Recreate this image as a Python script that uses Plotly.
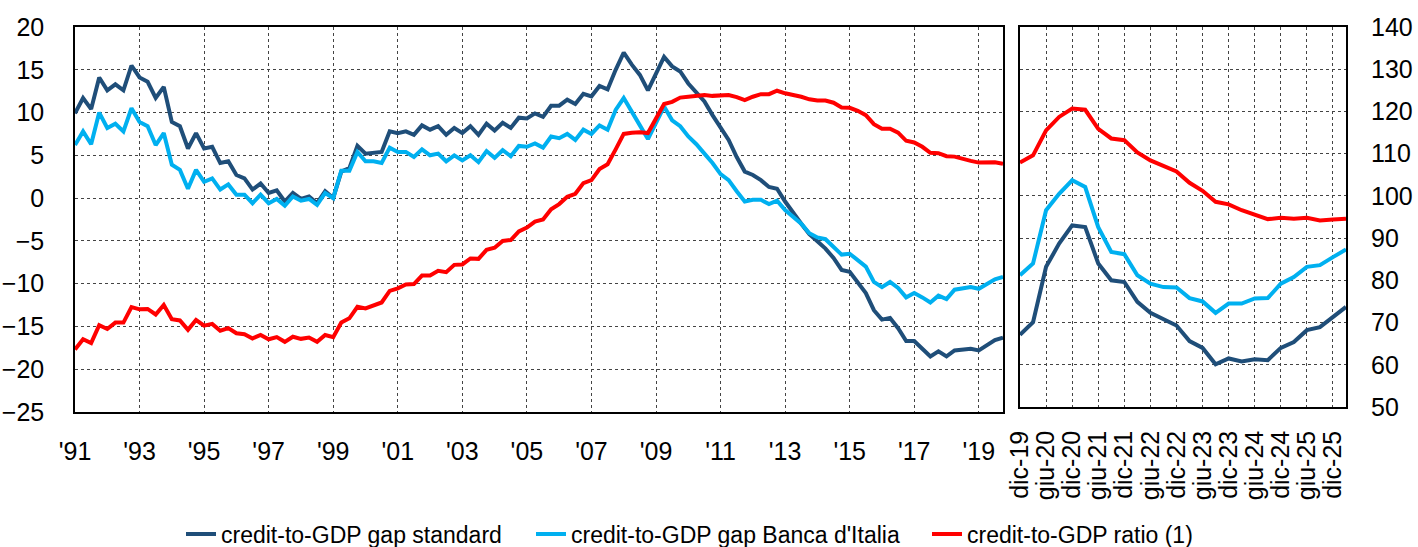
import plotly.graph_objects as go

# quarterly history 1991Q1 - 2019Q4
gap_standard = [
    9.9, 11.7, 10.4, 14.1, 12.6, 13.3, 12.6, 15.5, 14.1, 13.6, 11.7, 13.0,
    8.9, 8.4, 5.8, 7.6, 5.8, 6.0, 4.1, 4.3, 2.7, 2.3, 1.0, 1.7,
    0.6, 0.9, -0.4, 0.6, -0.1, 0.2, -0.6, 0.8, 0.0, 3.1, 3.5, 6.1,
    5.2, 5.3, 5.4, 7.8, 7.6, 7.8, 7.4, 8.5, 8.0, 8.4, 7.4, 8.2,
    7.6, 8.4, 7.4, 8.7, 7.9, 8.8, 8.2, 9.4, 9.3, 9.9, 9.5, 10.8,
    10.8, 11.5, 11.0, 12.2, 11.9, 13.1, 12.7, 15.0, 17.0, 15.6, 14.4, 12.6,
    14.6, 16.5, 15.4, 14.8, 13.4, 12.4, 11.3, 9.7, 8.2, 6.8, 4.8, 3.1,
    2.7, 2.1, 1.3, 1.1, -0.4, -1.8, -3.0, -4.2, -5.1, -5.9, -7.0, -8.4,
    -8.6, -9.8, -11.1, -13.1, -14.2, -14.0, -15.2, -16.7, -16.7, -17.6, -18.5, -17.9,
    -18.5, -17.8, -17.7, -17.6, -17.8, -17.2, -16.6, -16.3,
]
gap_bdi = [
    6.2, 7.8, 6.3, 10.0, 8.2, 8.7, 7.8, 10.5, 8.9, 8.4, 6.2, 7.6,
    3.9, 3.3, 1.1, 3.3, 1.9, 2.3, 1.0, 1.6, 0.4, 0.4, -0.6, 0.4,
    -0.6, -0.1, -0.9, 0.2, -0.3, -0.1, -0.8, 0.6, 0.0, 3.2, 3.2, 5.4,
    4.3, 4.3, 4.1, 5.9, 5.4, 5.4, 4.8, 5.7, 5.0, 5.2, 4.3, 5.0,
    4.4, 5.0, 4.2, 5.5, 4.7, 5.6, 4.9, 6.1, 6.0, 6.4, 5.9, 7.2,
    7.0, 7.5, 6.8, 8.0, 7.5, 8.5, 8.0, 10.3, 11.7, 10.0, 8.5, 6.9,
    8.9, 10.7, 9.1, 8.4, 7.2, 6.3, 5.2, 4.1, 2.8, 2.1, 0.8, -0.4,
    -0.2, -0.2, -0.7, -0.3, -1.4, -2.2, -3.0, -4.1, -4.6, -4.8, -5.7, -6.6,
    -6.5, -7.2, -8.0, -9.8, -10.4, -9.8, -10.5, -11.6, -11.1, -11.6, -12.2, -11.4,
    -11.8, -10.7, -10.6, -10.4, -10.6, -10.0, -9.5, -9.2,
]
ratio = [
    64.6, 67.0, 66.1, 70.3, 69.4, 70.9, 70.9, 74.5, 74.0, 74.1, 72.8, 75.0,
    71.7, 71.4, 69.2, 71.5, 70.2, 70.6, 69.0, 69.6, 68.4, 68.2, 67.2, 68.0,
    67.0, 67.5, 66.4, 67.6, 67.1, 67.4, 66.4, 68.0, 67.5, 70.9, 71.9, 74.6,
    74.2, 74.8, 75.6, 78.3, 78.9, 79.8, 79.9, 81.9, 81.9, 83.0, 82.7, 84.4,
    84.5, 85.9, 85.8, 87.9, 88.4, 90.0, 90.2, 92.2, 93.1, 94.5, 95.0, 97.4,
    98.6, 100.3, 101.0, 103.5, 104.2, 106.8, 107.9, 111.4, 115.0, 115.3, 115.4, 115.2,
    118.7, 122.0, 122.5, 123.5, 123.7, 123.9, 124.1, 123.9, 123.9, 124.1, 123.6, 122.9,
    123.7, 124.3, 124.3, 125.1, 124.5, 124.2, 123.7, 123.1, 122.8, 122.8, 122.3, 121.2,
    121.1, 120.4, 119.4, 117.3, 116.2, 116.2, 115.3, 113.4, 113.0, 112.0, 110.6, 110.5,
    109.8, 109.7, 109.1, 108.7, 108.3, 108.3, 108.4, 108.0,
]
hist_x = [1991 + i / 4 for i in range(len(ratio))]
year_ticks = list(range(1991, 2020, 2))
year_labels = ["'" + str(y)[2:] for y in year_ticks]

# projection panel dic-19 .. mar-26
proj_labels = [
    "dic-19", "mar-20", "giu-20", "set-20", "dic-20", "mar-21", "giu-21", "set-21",
    "dic-21", "mar-22", "giu-22", "set-22", "dic-22", "mar-23", "giu-23", "set-23",
    "dic-23", "mar-24", "giu-24", "set-24", "dic-24", "mar-25", "giu-25", "set-25",
    "dic-25", "mar-26",
]
proj_standard = [
    -16.45, -14.95, -8.4, -5.65, -3.5, -3.7, -8.0, -10.0, -10.2, -12.55, -13.85, -14.65,
    -15.35, -17.2, -18.0, -19.95, -19.25, -19.6, -19.35, -19.45, -18.0, -17.3, -15.9, -15.55,
    -14.35, -13.15,
]
proj_bdi = [
    -9.4, -8.0, -1.7, 0.25, 1.85, 1.05, -3.7, -6.65, -6.9, -9.4, -10.4, -10.8,
    -10.85, -12.1, -12.5, -13.85, -12.75, -12.75, -12.15, -12.1, -10.4, -9.6, -8.4, -8.2,
    -7.25, -6.35,
]
proj_ratio = [
    107.9, 109.6, 115.5, 118.7, 120.7, 120.4, 115.9, 113.6, 113.2, 110.3, 108.4, 107.1,
    105.8, 103.1, 101.2, 98.6, 98.0, 96.6, 95.6, 94.5, 94.8, 94.6, 94.8, 94.2,
    94.4, 94.6,
]
proj_x = list(range(len(proj_labels)))

DARK = "#1F4E79"
LIGHT = "#00B0F0"
RED = "#FF0000"
FONT = "Liberation Sans"
W, H = 1418, 547

fig = go.Figure()
fig.add_trace(go.Scatter(x=hist_x, y=gap_standard, mode="lines", line=dict(color=DARK, width=4),
                         name="credit-to-GDP gap standard", xaxis="x", yaxis="y", legend="legend"))
fig.add_trace(go.Scatter(x=hist_x, y=gap_bdi, mode="lines", line=dict(color=LIGHT, width=4),
                         name="credit-to-GDP gap Banca d'Italia", xaxis="x", yaxis="y", legend="legend2"))
fig.add_trace(go.Scatter(x=hist_x, y=ratio, mode="lines", line=dict(color=RED, width=4),
                         name="credit-to-GDP ratio (1)", xaxis="x", yaxis="y2", legend="legend3"))
fig.add_trace(go.Scatter(x=proj_x, y=proj_standard, mode="lines", line=dict(color=DARK, width=4),
                         showlegend=False, xaxis="x2", yaxis="y3"))
fig.add_trace(go.Scatter(x=proj_x, y=proj_bdi, mode="lines", line=dict(color=LIGHT, width=4),
                         showlegend=False, xaxis="x2", yaxis="y3"))
fig.add_trace(go.Scatter(x=proj_x, y=proj_ratio, mode="lines", line=dict(color=RED, width=4),
                         showlegend=False, xaxis="x2", yaxis="y4"))

grid = dict(showgrid=True, gridcolor="#444444", griddash="dot", gridwidth=1,
            showline=True, linecolor="black", linewidth=1.5, mirror=True,
            zeroline=False, ticks="", automargin=False)
tick_font = dict(family=FONT, size=25, color="black")
left_dom = [75 / W, 1003 / W]
right_dom = [1020 / W, 1346 / W]
ydom_left = [(H - 412) / H, (H - 27) / H]
ydom_right = [(H - 407) / H, (H - 27) / H]


def leg(px):
    return dict(orientation="h", x=px / W, xanchor="left", y=(H - 534) / H, yanchor="middle",
                font=dict(family=FONT, size=23), itemwidth=30, bgcolor="rgba(0,0,0,0)")


fig.update_layout(
    width=W, height=H,
    margin=dict(l=0, r=0, t=0, b=0, autoexpand=False),
    paper_bgcolor="white", plot_bgcolor="white",
    font=dict(family=FONT, size=23, color="black"),
    xaxis=dict(domain=left_dom, range=[1991, 2019.75], anchor="y", tickfont=tick_font,
               tickvals=year_ticks, ticktext=year_labels, ticklabelstandoff=16, **grid),
    yaxis=dict(domain=ydom_left, range=[-25, 20], dtick=5, anchor="x", tickfont=tick_font,
               ticklabelstandoff=24, **grid),
    yaxis2=dict(range=[50, 140], overlaying="y", anchor="x", side="right", automargin=False,
                showgrid=False, showticklabels=False, zeroline=False),
    xaxis2=dict(domain=right_dom, range=[0, 25], anchor="y3", tickfont=tick_font,
                tickvals=proj_x[::2], ticktext=proj_labels[::2], tickangle=-90,
                ticklabelstandoff=12, **grid),
    yaxis3=dict(domain=ydom_right, range=[-25, 20], dtick=5, anchor="x2",
                showticklabels=False, **grid),
    yaxis4=dict(range=[50, 140], dtick=10, overlaying="y3", anchor="x2", side="right",
                showgrid=False, zeroline=False, ticks="", ticklabelstandoff=24,
                tickfont=tick_font, automargin=False),
    legend=leg(181),
    legend2=leg(531),
    legend3=leg(927),
)

fig.write_html("out.html", config={"displayModeBar": False},
               post_script="document.body.style.margin='0';")
